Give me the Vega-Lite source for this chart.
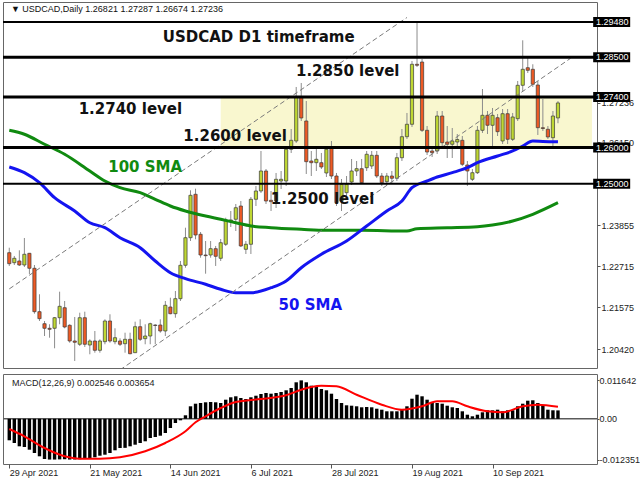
{
"$schema":"https://vega.github.io/schema/vega-lite/v6.json",
"padding":{"left":1,"top":1,"right":0,"bottom":0},
"background":"white",
"spacing":4,
"config":{"view":{"stroke":"#666666","strokeWidth":1},"font":"Liberation Sans","axis":{"labelFont":"Liberation Sans","labelFontSize":9,"labelColor":"#222222","tickColor":"#555555","grid":false,"domain":false,"labelOverlap":false,"labelFlush":false}},
"datasets":{
"one":[{}],
"bars":[
{"i":0,"o":1.23088,"h":1.23226,"l":1.2272,"c":1.22783,"m":-0.006515},
{"i":1,"o":1.22811,"h":1.22997,"l":1.22747,"c":1.22933,"m":-0.007333},
{"i":2,"o":1.22858,"h":1.23154,"l":1.2272,"c":1.22747,"m":-0.008333},
{"i":3,"o":1.22747,"h":1.23495,"l":1.22692,"c":1.23044,"m":-0.008545},
{"i":4,"o":1.23071,"h":1.2308,"l":1.22498,"c":1.22656,"m":-0.009363},
{"i":5,"o":1.22656,"h":1.22747,"l":1.21398,"c":1.21454,"m":-0.010363},
{"i":6,"o":1.21454,"h":1.21936,"l":1.21196,"c":1.2126,"m":-0.011363},
{"i":7,"o":1.21121,"h":1.21196,"l":1.2078,"c":1.20994,"m":-0.012181},
{"i":8,"o":1.20994,"h":1.21105,"l":1.20733,"c":1.20966,"m":-0.012351},
{"i":9,"o":1.20994,"h":1.21307,"l":1.2044,"c":1.21287,"m":-0.012351},
{"i":10,"o":1.21287,"h":1.22008,"l":1.21105,"c":1.21603,"m":-0.0123},
{"i":11,"o":1.21564,"h":1.2175,"l":1.20994,"c":1.2103,"m":-0.01225},
{"i":12,"o":1.21077,"h":1.21105,"l":1.20595,"c":1.20642,"m":-0.012351},
{"i":13,"o":1.20642,"h":1.21307,"l":1.20088,"c":1.20606,"m":-0.01233},
{"i":14,"o":1.20551,"h":1.21426,"l":1.20503,"c":1.21287,"m":-0.01225},
{"i":15,"o":1.21287,"h":1.21454,"l":1.20476,"c":1.20551,"m":-0.0122},
{"i":16,"o":1.20531,"h":1.20689,"l":1.20274,"c":1.20642,"m":-0.011878},
{"i":17,"o":1.20642,"h":1.20919,"l":1.20318,"c":1.20384,"m":-0.011666},
{"i":18,"o":1.20384,"h":1.20689,"l":1.20318,"c":1.20642,"m":-0.011181},
{"i":19,"o":1.20623,"h":1.21243,"l":1.20551,"c":1.21196,"m":-0.010878},
{"i":20,"o":1.21196,"h":1.21382,"l":1.20595,"c":1.20642,"m":-0.010363},
{"i":21,"o":1.20623,"h":1.20994,"l":1.20551,"c":1.20733,"m":-0.009545},
{"i":22,"o":1.20642,"h":1.20717,"l":1.20503,"c":1.20551,"m":-0.008848},
{"i":23,"o":1.20567,"h":1.20872,"l":1.20318,"c":1.20689,"m":-0.0088},
{"i":24,"o":1.20689,"h":1.20872,"l":1.20274,"c":1.2029,"m":-0.008333},
{"i":25,"o":1.20318,"h":1.21177,"l":1.2031,"c":1.21038,"m":-0.007848},
{"i":26,"o":1.21038,"h":1.21243,"l":1.20642,"c":1.20689,"m":-0.007333},
{"i":27,"o":1.20706,"h":1.21105,"l":1.20551,"c":1.2078,"m":-0.006818},
{"i":28,"o":1.2078,"h":1.21149,"l":1.20551,"c":1.21121,"m":-0.005818},
{"i":29,"o":1.21085,"h":1.21105,"l":1.20551,"c":1.21071,"m":-0.005515},
{"i":30,"o":1.21085,"h":1.21243,"l":1.20872,"c":1.20919,"m":-0.005121},
{"i":31,"o":1.20919,"h":1.2175,"l":1.2078,"c":1.21631,"m":-0.004303},
{"i":32,"o":1.21584,"h":1.21841,"l":1.21382,"c":1.21398,"m":-0.002788},
{"i":33,"o":1.21398,"h":1.22027,"l":1.21287,"c":1.21814,"m":-0.001273},
{"i":34,"o":1.21814,"h":1.22858,"l":1.2175,"c":1.22739,"m":-0.000455},
{"i":35,"o":1.22739,"h":1.2378,"l":1.22672,"c":1.23503,"m":0.001061},
{"i":36,"o":1.23503,"h":1.24816,"l":1.23412,"c":1.24678,"m":0.003788},
{"i":37,"o":1.24706,"h":1.24861,"l":1.23459,"c":1.23578,"m":0.004575},
{"i":38,"o":1.23598,"h":1.23661,"l":1.22949,"c":1.23024,"m":0.004787},
{"i":39,"o":1.23024,"h":1.23412,"l":1.22506,"c":1.23005,"m":0.005},
{"i":40,"o":1.23024,"h":1.23412,"l":1.22949,"c":1.23199,"m":0.00509},
{"i":41,"o":1.23199,"h":1.23274,"l":1.2272,"c":1.22988,"m":0.005},
{"i":42,"o":1.22933,"h":1.23467,"l":1.22858,"c":1.23365,"m":0.004787},
{"i":43,"o":1.23321,"h":1.24057,"l":1.23274,"c":1.23994,"m":0.005787},
{"i":44,"o":1.23994,"h":1.24243,"l":1.238,"c":1.23952,"m":0.006515},
{"i":45,"o":1.24013,"h":1.24437,"l":1.23689,"c":1.24334,"m":0.006818},
{"i":46,"o":1.24381,"h":1.2452,"l":1.23246,"c":1.23274,"m":0.006302},
{"i":47,"o":1.23182,"h":1.23412,"l":1.23052,"c":1.23321,"m":0.005999},
{"i":48,"o":1.23321,"h":1.24631,"l":1.23052,"c":1.24567,"m":0.006515},
{"i":49,"o":1.24567,"h":1.24935,"l":1.24381,"c":1.24797,"m":0.007},
{"i":50,"o":1.24797,"h":1.25905,"l":1.24742,"c":1.25351,"m":0.007514},
{"i":51,"o":1.25351,"h":1.25406,"l":1.24437,"c":1.2452,"m":0.007817},
{"i":52,"o":1.24539,"h":1.24797,"l":1.24243,"c":1.24501,"m":0.007605},
{"i":53,"o":1.2452,"h":1.25296,"l":1.24326,"c":1.25121,"m":0.007817},
{"i":54,"o":1.25074,"h":1.25351,"l":1.24852,"c":1.25121,"m":0.00812},
{"i":55,"o":1.25074,"h":1.26043,"l":1.24935,"c":1.25952,"m":0.008636},
{"i":56,"o":1.25952,"h":1.26514,"l":1.2585,"c":1.26201,"m":0.009332},
{"i":57,"o":1.26182,"h":1.27678,"l":1.26127,"c":1.27401,"m":0.01106},
{"i":58,"o":1.27401,"h":1.27789,"l":1.26736,"c":1.26819,"m":0.011642},
{"i":59,"o":1.26736,"h":1.2729,"l":1.25268,"c":1.25609,"m":0.01106},
{"i":60,"o":1.25628,"h":1.25905,"l":1.25212,"c":1.25581,"m":0.010029},
{"i":61,"o":1.25581,"h":1.2596,"l":1.25351,"c":1.25675,"m":0.009635},
{"i":62,"o":1.25581,"h":1.2585,"l":1.25406,"c":1.25462,"m":0.009029},
{"i":63,"o":1.25296,"h":1.26043,"l":1.25185,"c":1.25952,"m":0.008636},
{"i":64,"o":1.25996,"h":1.26182,"l":1.25129,"c":1.25212,"m":0.007605},
{"i":65,"o":1.25212,"h":1.25296,"l":1.24381,"c":1.24473,"m":0.005999},
{"i":66,"o":1.2452,"h":1.25129,"l":1.24243,"c":1.24983,"m":0.004787},
{"i":67,"o":1.2475,"h":1.25212,"l":1.24658,"c":1.24983,"m":0.004091},
{"i":68,"o":1.25046,"h":1.25683,"l":1.24963,"c":1.25351,"m":0.003969},
{"i":69,"o":1.25351,"h":1.25628,"l":1.25212,"c":1.25415,"m":0.003788},
{"i":70,"o":1.25415,"h":1.25683,"l":1.24991,"c":1.25027,"m":0.003485},
{"i":71,"o":1.25442,"h":1.25905,"l":1.25351,"c":1.25814,"m":0.003575},
{"i":72,"o":1.2549,"h":1.25905,"l":1.25406,"c":1.25786,"m":0.003485},
{"i":73,"o":1.25786,"h":1.25905,"l":1.25157,"c":1.25212,"m":0.00306},
{"i":74,"o":1.25212,"h":1.25296,"l":1.24935,"c":1.25027,"m":0.002757},
{"i":75,"o":1.25055,"h":1.25296,"l":1.24963,"c":1.25212,"m":0.002273},
{"i":76,"o":1.25212,"h":1.25351,"l":1.25019,"c":1.25149,"m":0.002273},
{"i":77,"o":1.25149,"h":1.2585,"l":1.25074,"c":1.25719,"m":0.002273},
{"i":78,"o":1.25719,"h":1.26514,"l":1.25628,"c":1.26301,"m":0.002757},
{"i":79,"o":1.26301,"h":1.26958,"l":1.26237,"c":1.26645,"m":0.003788},
{"i":80,"o":1.26645,"h":1.28398,"l":1.2657,"c":1.28307,"m":0.00609},
{"i":81,"o":1.28307,"h":1.29505,"l":1.28232,"c":1.28279,"m":0.007302},
{"i":82,"o":1.2837,"h":1.28453,"l":1.26431,"c":1.26478,"m":0.006818},
{"i":83,"o":1.26478,"h":1.26597,"l":1.25794,"c":1.25877,"m":0.005787},
{"i":84,"o":1.25905,"h":1.26043,"l":1.25739,"c":1.25858,"m":0.005},
{"i":85,"o":1.25905,"h":1.27013,"l":1.25822,"c":1.26874,"m":0.004787},
{"i":86,"o":1.26874,"h":1.27013,"l":1.26043,"c":1.26135,"m":0.004575},
{"i":87,"o":1.26154,"h":1.26597,"l":1.25711,"c":1.26091,"m":0.003969},
{"i":88,"o":1.26091,"h":1.26542,"l":1.25711,"c":1.26182,"m":0.003485},
{"i":89,"o":1.26154,"h":1.26376,"l":1.2596,"c":1.26224,"m":0.003272},
{"i":90,"o":1.26201,"h":1.2632,"l":1.2549,"c":1.25537,"m":0.002273},
{"i":91,"o":1.25517,"h":1.25628,"l":1.24935,"c":1.25351,"m":0.001242},
{"i":92,"o":1.25121,"h":1.25406,"l":1.25074,"c":1.25304,"m":0.000758},
{"i":93,"o":1.25304,"h":1.26597,"l":1.25268,"c":1.26478,"m":0.001242},
{"i":94,"o":1.26478,"h":1.27622,"l":1.26404,"c":1.26894,"m":0.00197},
{"i":95,"o":1.26894,"h":1.27013,"l":1.26376,"c":1.26617,"m":0.002576},
{"i":96,"o":1.26617,"h":1.27096,"l":1.25988,"c":1.26894,"m":0.002576},
{"i":97,"o":1.26827,"h":1.2693,"l":1.2632,"c":1.2644,"m":0.002757},
{"i":98,"o":1.26182,"h":1.27068,"l":1.26099,"c":1.26938,"m":0.002273},
{"i":99,"o":1.26938,"h":1.27068,"l":1.26099,"c":1.26229,"m":0.002576},
{"i":100,"o":1.26229,"h":1.26958,"l":1.26182,"c":1.26847,"m":0.002576},
{"i":101,"o":1.268,"h":1.27844,"l":1.26736,"c":1.27725,"m":0.003788},
{"i":102,"o":1.27725,"h":1.28971,"l":1.27567,"c":1.28168,"m":0.004575},
{"i":103,"o":1.28212,"h":1.28489,"l":1.28066,"c":1.2814,"m":0.005484},
{"i":104,"o":1.28168,"h":1.28307,"l":1.27678,"c":1.27753,"m":0.005606},
{"i":105,"o":1.27733,"h":1.27844,"l":1.26348,"c":1.2655,"m":0.004787},
{"i":106,"o":1.2655,"h":1.27345,"l":1.26459,"c":1.26528,"m":0.003969},
{"i":107,"o":1.26506,"h":1.26597,"l":1.26237,"c":1.26293,"m":0.002757},
{"i":108,"o":1.26273,"h":1.27013,"l":1.25988,"c":1.26874,"m":0.002576},
{"i":109,"o":1.26821,"h":1.27287,"l":1.26674,"c":1.27236,"m":0.002546}
],
"sig":[
{"i":0,"v":-0.003091},{"i":3,"v":-0.005303},{"i":7,"v":-0.008848},{"i":11,"v":-0.011363},{"i":14,"v":-0.0121},{"i":18,"v":-0.0121},{"i":22,"v":-0.011666},{"i":27,"v":-0.009848},{"i":31,"v":-0.007333},{"i":35,"v":-0.003788},{"i":37,"v":-0.001061},{"i":39,"v":0.000758},{"i":42,"v":0.003272},{"i":45,"v":0.00509},{"i":50,"v":0.005999},{"i":55,"v":0.00712},{"i":58,"v":0.008817},{"i":60,"v":0.009635},{"i":62,"v":0.010029},{"i":65,"v":0.009848},{"i":69,"v":0.007302},{"i":74,"v":0.004272},{"i":78,"v":0.002757},{"i":82,"v":0.003788},{"i":85,"v":0.005302},{"i":88,"v":0.005302},{"i":91,"v":0.003788},{"i":95,"v":0.002273},{"i":98,"v":0.00197},{"i":102,"v":0.003788},{"i":105,"v":0.004272},{"i":109,"v":0.003654}
],
"sma":[
{"s":"50","i":0,"p":1.25462},{"s":"50","i":3,"p":1.25304},{"s":"50","i":6,"p":1.25027},{"s":"50","i":9,"p":1.24611},{"s":"50","i":13,"p":1.24243},{"s":"50","i":16,"p":1.23919},{"s":"50","i":19,"p":1.2378},{"s":"50","i":22,"p":1.23503},{"s":"50","i":26,"p":1.23226},{"s":"50","i":29,"p":1.22858},{"s":"50","i":32,"p":1.22534},{"s":"50","i":35,"p":1.22368},{"s":"50","i":39,"p":1.22213},{"s":"50","i":42,"p":1.22074},{"s":"50","i":45,"p":1.2198},{"s":"50","i":48,"p":1.2198},{"s":"50","i":52,"p":1.22118},{"s":"50","i":55,"p":1.22304},{"s":"50","i":58,"p":1.22672},{"s":"50","i":62,"p":1.23044},{"s":"50","i":67,"p":1.23412},{"s":"50","i":71,"p":1.23827},{"s":"50","i":75,"p":1.24243},{"s":"50","i":78,"p":1.2452},{"s":"50","i":80,"p":1.24888},{"s":"50","i":83,"p":1.25074},{"s":"50","i":85,"p":1.25185},{"s":"50","i":88,"p":1.25304},{"s":"50","i":91,"p":1.25442},{"s":"50","i":93,"p":1.25581},{"s":"50","i":97,"p":1.25767},{"s":"50","i":100,"p":1.25905},{"s":"50","i":102,"p":1.26043},{"s":"50","i":104,"p":1.26182},{"s":"50","i":106,"p":1.2617},{"s":"50","i":109,"p":1.2616},
{"s":"100","i":0,"p":1.26478},{"s":"100","i":3,"p":1.26368},{"s":"100","i":7,"p":1.26091},{"s":"100","i":11,"p":1.25814},{"s":"100","i":16,"p":1.25351},{"s":"100","i":19,"p":1.25074},{"s":"100","i":22,"p":1.24888},{"s":"100","i":26,"p":1.2475},{"s":"100","i":29,"p":1.24567},{"s":"100","i":32,"p":1.24381},{"s":"100","i":35,"p":1.24243},{"s":"100","i":39,"p":1.24104},{"s":"100","i":42,"p":1.24013},{"s":"100","i":45,"p":1.23919},{"s":"100","i":48,"p":1.23827},{"s":"100","i":52,"p":1.2378},{"s":"100","i":58,"p":1.23736},{"s":"100","i":63,"p":1.23708},{"s":"100","i":70,"p":1.23708},{"s":"100","i":79,"p":1.23689},{"s":"100","i":81,"p":1.23753},{"s":"100","i":87,"p":1.2378},{"s":"100","i":93,"p":1.23808},{"s":"100","i":96,"p":1.23855},{"s":"100","i":100,"p":1.23966},{"s":"100","i":104,"p":1.24152},{"s":"100","i":109,"p":1.24473}
],
"trend":[
{"ln":"a","i":0,"p":1.22085},{"ln":"a","i":79,"p":1.29603},
{"ln":"b","i":22,"p":1.19841},{"ln":"b","i":111.5,"p":1.28473}
],
"lv":[{"v":1.2948},{"v":1.285},{"v":1.274},{"v":1.26},{"v":1.25}]
},
"vconcat":[
{
"width":594,"height":366,
"layer":[
{"data":{"name":"one"},"mark":{"type":"rect","color":"#F9F7CF"},"encoding":{"x":{"datum":42,"type":"quantitative","axis":null},"x2":{"datum":115.76},"y":{"datum":1.26,"type":"quantitative","title":null},"y2":{"datum":1.274}}},
{"data":{"name":"bars"},"mark":{"type":"rule","color":"#8c8c8c","strokeWidth":1},"encoding":{"x":{"field":"i","type":"quantitative","axis":null},"y":{"field":"l","type":"quantitative","title":null},"y2":{"field":"h"}}},
{"data":{"name":"bars"},"mark":{"type":"bar","orient":"vertical","width":3.2,"stroke":"#3a3a3a","strokeWidth":0.7},"encoding":{
"x":{"field":"i","type":"quantitative","scale":{"domain":[-0.254,115.76],"nice":false,"zero":false},"axis":null},
"y":{"field":"o","type":"quantitative","title":null,"scale":{"domain":[1.19894,1.30032],"nice":false,"zero":false},"axis":{"orient":"right","values":[1.27236,1.2615,1.23855,1.22715,1.21575,1.2042],"format":".5f","tickSize":3,"labelPadding":1}},
"y2":{"field":"c"},
"fill":{"condition":{"test":"datum.c >= datum.o","value":"#BFD733"},"value":"#EE5A24"}}},
{"data":{"name":"sma"},"transform":[{"filter":"datum.s == '100'"}],"mark":{"type":"line","color":"#108A10","strokeWidth":3,"interpolate":"monotone"},"encoding":{"x":{"field":"i","type":"quantitative","axis":null},"y":{"field":"p","type":"quantitative","title":null}}},
{"data":{"name":"sma"},"transform":[{"filter":"datum.s == '50'"}],"mark":{"type":"line","color":"#1414F0","strokeWidth":3,"interpolate":"monotone"},"encoding":{"x":{"field":"i","type":"quantitative","axis":null},"y":{"field":"p","type":"quantitative","title":null}}},
{"data":{"name":"trend"},"mark":{"type":"line","color":"#7a7a7a","strokeWidth":1,"strokeDash":[5,3],"clip":true},"encoding":{"x":{"field":"i","type":"quantitative","axis":null},"y":{"field":"p","type":"quantitative","title":null},"detail":{"field":"ln"}}},
{"data":{"name":"lv"},"transform":[{"filter":"datum.v == 1.2948 || datum.v == 1.25"}],"mark":{"type":"rule","color":"#000000","strokeWidth":2},"encoding":{"y":{"field":"v","type":"quantitative","title":null}}},
{"data":{"name":"lv"},"transform":[{"filter":"datum.v != 1.2948 && datum.v != 1.25"}],"mark":{"type":"rule","color":"#000000","strokeWidth":3},"encoding":{"y":{"field":"v","type":"quantitative","title":null}}},
{"data":{"name":"one"},"mark":{"type":"text","font":"DejaVu Sans","fontWeight":"bold","fontSize":15,"color":"#111111","align":"center","baseline":"middle"},"encoding":{"x":{"datum":49.55,"type":"quantitative","axis":null},"y":{"datum":1.29049,"type":"quantitative","title":null},"text":{"value":"USDCAD D1 timeframe"}}},
{"data":{"name":"one"},"mark":{"type":"text","font":"DejaVu Sans","fontWeight":"bold","fontSize":15,"color":"#111111","align":"center","baseline":"middle"},"encoding":{"x":{"datum":67.23,"type":"quantitative","axis":null},"y":{"datum":1.28121,"type":"quantitative","title":null},"text":{"value":"1.2850 level"}}},
{"data":{"name":"one"},"mark":{"type":"text","font":"DejaVu Sans","fontWeight":"bold","fontSize":15,"color":"#111111","align":"center","baseline":"middle"},"encoding":{"x":{"datum":24.06,"type":"quantitative","axis":null},"y":{"datum":1.27068,"type":"quantitative","title":null},"text":{"value":"1.2740 level"}}},
{"data":{"name":"one"},"mark":{"type":"text","font":"DejaVu Sans","fontWeight":"bold","fontSize":15,"color":"#111111","align":"center","baseline":"middle"},"encoding":{"x":{"datum":44.86,"type":"quantitative","axis":null},"y":{"datum":1.2632,"type":"quantitative","title":null},"text":{"value":"1.2600 level"}}},
{"data":{"name":"one"},"mark":{"type":"text","font":"DejaVu Sans","fontWeight":"bold","fontSize":15,"color":"#111111","align":"center","baseline":"middle"},"encoding":{"x":{"datum":62.23,"type":"quantitative","axis":null},"y":{"datum":1.24589,"type":"quantitative","title":null},"text":{"value":"1.2500 level"}}},
{"data":{"name":"one"},"mark":{"type":"text","font":"DejaVu Sans","fontWeight":"bold","fontSize":15,"color":"#108A10","align":"center","baseline":"middle"},"encoding":{"x":{"datum":26.99,"type":"quantitative","axis":null},"y":{"datum":1.25448,"type":"quantitative","title":null},"text":{"value":"100 SMA"}}},
{"data":{"name":"one"},"mark":{"type":"text","font":"DejaVu Sans","fontWeight":"bold","fontSize":15,"color":"#1414F0","align":"center","baseline":"middle"},"encoding":{"x":{"datum":59.8,"type":"quantitative","axis":null},"y":{"datum":1.21639,"type":"quantitative","title":null},"text":{"value":"50 SMA"}}},
{"data":{"name":"one"},"mark":{"type":"text","font":"Liberation Sans","fontSize":9,"color":"#111111","align":"left","baseline":"middle"},"encoding":{"x":{"datum":0.33,"type":"quantitative","axis":null},"y":{"datum":1.2983,"type":"quantitative","title":null},"text":{"value":"▼ USDCAD,Daily 1.26821 1.27287 1.26674 1.27236"}}},
{"data":{"name":"lv"},"mark":{"type":"point","shape":"M-1,-0.27L1,-0.27L1,0.27L-1,0.27Z","filled":true,"color":"#000000","size":1369,"opacity":1},"encoding":{"x":{"datum":119.67,"type":"quantitative","axis":null},"y":{"field":"v","type":"quantitative","title":null}}},
{"data":{"name":"lv"},"mark":{"type":"text","font":"Liberation Sans","fontSize":9,"color":"#ffffff","align":"left","baseline":"middle"},"encoding":{"x":{"datum":116.54,"type":"quantitative","axis":null},"y":{"field":"v","type":"quantitative","title":null},"text":{"field":"v","type":"quantitative","format":".5f"}}}
]
},
{
"width":594,"height":90,
"layer":[
{"data":{"name":"one"},"mark":{"type":"rule","color":"#5a5a5a","strokeWidth":1.5},"encoding":{"y":{"datum":0,"type":"quantitative","title":null}}},
{"data":{"name":"bars"},"mark":{"type":"bar","orient":"vertical","width":3.4,"color":"#000000"},"encoding":{
"x":{"field":"i","type":"quantitative","title":null,"scale":{"domain":[-0.254,115.76],"nice":false,"zero":false},"axis":{"orient":"bottom","values":[0,16,32,48,64,80,96],"labelExpr":"['29 Apr 2021','21 May 2021','14 Jun 2021','6 Jul 2021','28 Jul 2021','19 Aug 2021','10 Sep 2021'][round(datum.value/16)]","labelAlign":"left","labelPadding":0,"tickSize":4}},
"y":{"field":"m","type":"quantitative","title":null,"scale":{"domain":[-0.013696,0.013574],"nice":false,"zero":false},"axis":{"orient":"right","values":[0.011642,0,-0.012351],"labelExpr":"datum.value == 0 ? '0.00' : (datum.value > 0 ? '0.011642' : '-0.012351')","tickSize":2,"labelPadding":0}},
"y2":{"datum":0}}},
{"data":{"name":"sig"},"mark":{"type":"line","color":"#FF0000","strokeWidth":2,"interpolate":"monotone"},"encoding":{"x":{"field":"i","type":"quantitative","title":null},"y":{"field":"v","type":"quantitative","title":null}}},
{"data":{"name":"one"},"mark":{"type":"text","font":"Liberation Sans","fontSize":9,"color":"#222222","align":"left","baseline":"middle"},"encoding":{"x":{"datum":0.53,"type":"quantitative","title":null},"y":{"datum":0.010847,"type":"quantitative","title":null},"text":{"value":"MACD(12,26,9) 0.002546 0.003654"}}}
]
}
]
}
